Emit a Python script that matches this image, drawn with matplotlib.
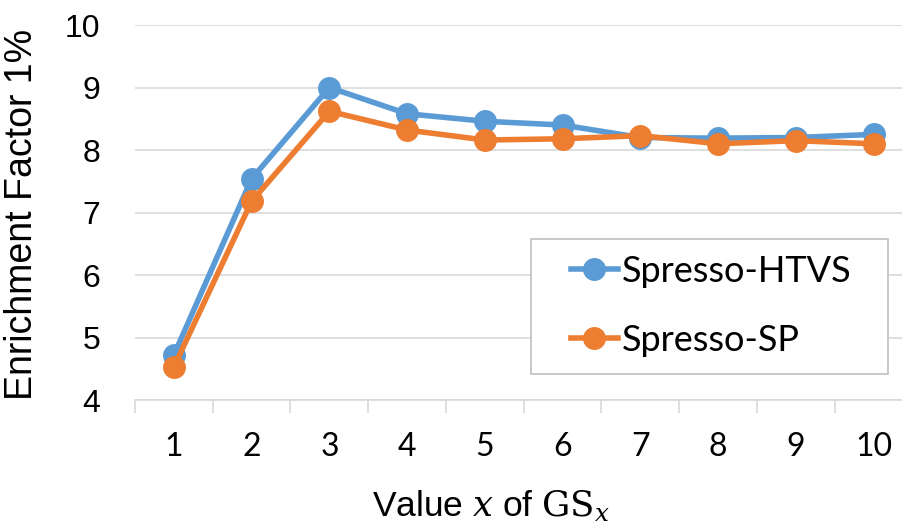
import numpy as np
import matplotlib.pyplot as plt
from matplotlib.patches import Rectangle

gs_x = [1, 2, 3, 4, 5, 6, 7, 8, 9, 10]
htvs = [4.72, 7.54, 9.00, 8.58, 8.46, 8.40, 8.20, 8.19, 8.20, 8.25]
sp = [4.53, 7.18, 8.62, 8.32, 8.16, 8.18, 8.23, 8.10, 8.15, 8.10]

blue = '#5B9BD5'
orange = '#ED7D31'

plt.rcParams['mathtext.fontset'] = 'dejavuserif'

fig = plt.figure(figsize=(9.03, 5.32), dpi=100)
ax = fig.add_axes([0.1495, 0.248, 0.861, 0.705])

ax.plot(gs_x, htvs, '-o', color=blue, lw=4, ms=15.5, label='Spresso-HTVS', zorder=3)
ax.plot(gs_x, sp, '-o', color=orange, lw=4, ms=15.5, label='Spresso-SP', zorder=4)

ax.set_xlim(0.5, 10.5)
ax.set_ylim(4, 10)
ax.set_yticks(range(4, 11))
ax.set_xticks(gs_x)
ax.set_xticks(np.arange(0.5, 11, 1), minor=True)
ax.grid(axis='y', color='#d9d9d9', lw=1.2, zorder=0)

for s in ['top', 'right', 'left']:
    ax.spines[s].set_visible(False)
ax.spines['bottom'].set_color('#d9d9d9')
ax.spines['bottom'].set_linewidth(1.2)

ax.tick_params(axis='y', length=0, pad=25, labelsize=23)
ax.tick_params(axis='x', which='major', length=0, pad=23)
ax.tick_params(axis='x', which='minor', length=9, width=1.2, color='#d9d9d9')
for lab in ax.get_yticklabels():
    lab.set_family('Liberation Sans')
for lab in ax.get_xticklabels():
    lab.set_family('Lato')
    lab.set_fontsize(23)

ax.set_ylabel('Enrichment Factor 1%', family='Liberation Sans', fontsize=27)
ax.yaxis.set_label_coords(-0.122, 0.495)
ax.set_xlabel(r'Value $x$ of $\mathrm{GS}_x$', family='Liberation Sans', fontsize=25.5)
ax.xaxis.set_label_coords(0.458, -0.235)

# legend box drawn separately so the padding can differ left/right and top/bottom
fig.patches.append(Rectangle((531 / 903, 1 - 374 / 532), 357 / 903, 135 / 532,
                             transform=fig.transFigure, facecolor='white',
                             edgecolor='#bfbfbf', lw=1.2, zorder=5))
leg = fig.legend(loc='center', bbox_to_anchor=(711 / 903, 1 - 306 / 532), frameon=False,
                 prop={'family': 'Lato', 'size': 26}, handlelength=1.3,
                 handletextpad=0.1, borderpad=0, labelspacing=1.0,
                 markerscale=1.0, borderaxespad=0)
leg.set_zorder(6)

fig.savefig('out.png', dpi=100)
